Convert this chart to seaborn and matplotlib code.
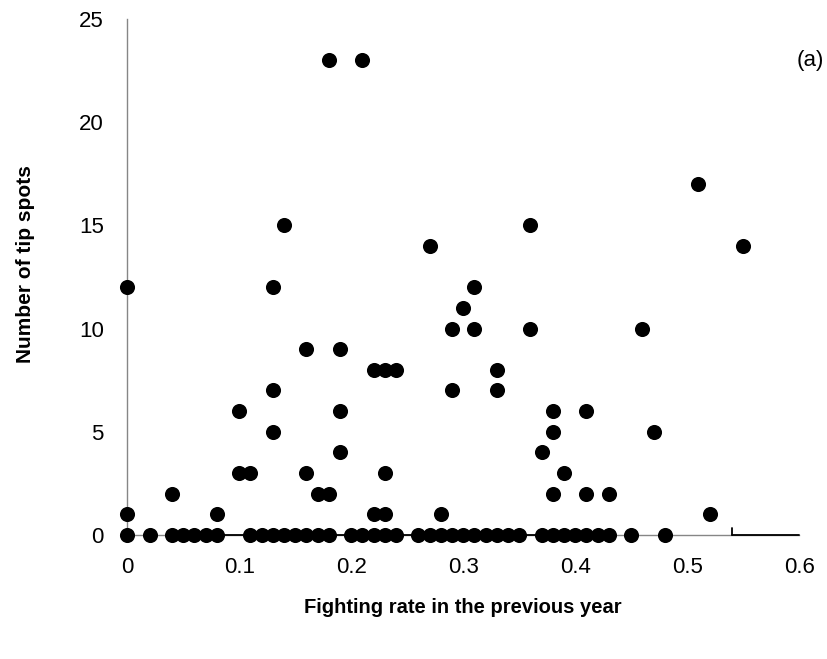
import numpy as np
import pandas as pd
import matplotlib
matplotlib.use("Agg")
import matplotlib.pyplot as plt
import seaborn as sns

# data, grouped by number of tip spots
x_0 = [0, 0.02, 0.04, 0.05, 0.06, 0.07, 0.08, 0.11, 0.12, 0.13, 0.14, 0.15,
       0.16, 0.17, 0.18, 0.20, 0.21, 0.22, 0.23, 0.24, 0.26, 0.27, 0.28, 0.29,
       0.30, 0.31, 0.32, 0.33, 0.34, 0.35, 0.37, 0.38, 0.39, 0.40, 0.41, 0.42,
       0.43, 0.45, 0.48]
x_1 = [0, 0.08, 0.22, 0.23, 0.28, 0.52]
x_2 = [0.04, 0.17, 0.18, 0.38, 0.41, 0.43]
x_3 = [0.10, 0.11, 0.16, 0.23, 0.39]
x_4 = [0.19, 0.37]
x_5 = [0.13, 0.38, 0.47]
x_6 = [0.10, 0.19, 0.38, 0.41]
x_7 = [0.13, 0.29, 0.33]
x_8 = [0.22, 0.23, 0.24, 0.33]
x_9 = [0.16, 0.19]
x_10 = [0.29, 0.31, 0.36, 0.46]
x_11 = [0.30]
x_12 = [0, 0.13, 0.31]
x_14 = [0.27, 0.55]
x_15 = [0.14, 0.36]
x_17 = [0.51]
x_23 = [0.18, 0.21]

groups = {0: x_0, 1: x_1, 2: x_2, 3: x_3, 4: x_4, 5: x_5, 6: x_6, 7: x_7,
          8: x_8, 9: x_9, 10: x_10, 11: x_11, 12: x_12, 14: x_14, 15: x_15,
          17: x_17, 23: x_23}
df = pd.DataFrame([(x, y) for y, xs in groups.items() for x in xs],
                  columns=["fight_rate", "tip_spots"])

x_ticks = [0, 0.1, 0.2, 0.3, 0.4, 0.5, 0.6]
x_tick_labels = ["0", "0.1", "0.2", "0.3", "0.4", "0.5", "0.6"]
y_ticks = [0, 5, 10, 15, 20, 25]

sns.set_style("white")
plt.rcParams["font.family"] = ["Liberation Sans", "DejaVu Sans"]
plt.rcParams["text.color"] = "black"
plt.rcParams["axes.labelcolor"] = "black"

fig = plt.figure(figsize=(8.27, 6.59), dpi=100)
ax = fig.add_axes([0.1539, 0.1882, 0.8126, 0.783])

# black bar segments along the x axis in the original
ax.plot([0.08, 0.42], [0, 0], color="black", lw=1.3, zorder=2, clip_on=False)
ax.plot([0.54, 0.6], [0, 0], color="black", lw=1.3, zorder=2, clip_on=False)
ax.plot([0.54, 0.54], [-0.02, 0.35], color="black", lw=1.3, zorder=2, clip_on=False)

sns.scatterplot(data=df, x="fight_rate", y="tip_spots", color="black", s=118,
                linewidth=0, ax=ax, zorder=3, clip_on=False)

ax.set_xlim(0, 0.6)
ax.set_ylim(0, 25)
ax.set_xticks(x_ticks)
ax.set_xticklabels(x_tick_labels)
ax.set_yticks(y_ticks)

gray = "#868686"
for side in ["top", "right"]:
    ax.spines[side].set_visible(False)
for side in ["left", "bottom"]:
    ax.spines[side].set_color(gray)
    ax.spines[side].set_linewidth(1.0)
    ax.spines[side].set_zorder(1)
ax.tick_params(axis="both", direction="out", length=6, width=1.0, color=gray,
               labelsize=16, labelcolor="black", pad=10)
ax.tick_params(axis="y", pad=11)

ax.set_xlabel("Fighting rate in the previous year", fontsize=14.5, fontweight="bold")
ax.set_ylabel("Number of tip spots", fontsize=15, fontweight="bold")
ax.xaxis.set_label_coords(0.5, -0.122)
ax.yaxis.set_label_coords(-0.137, 0.525)

ax.text(1.016, 0.92, "(a)", transform=ax.transAxes, fontsize=16,
        ha="center", va="center")

fig.savefig("out.png", dpi=100)
